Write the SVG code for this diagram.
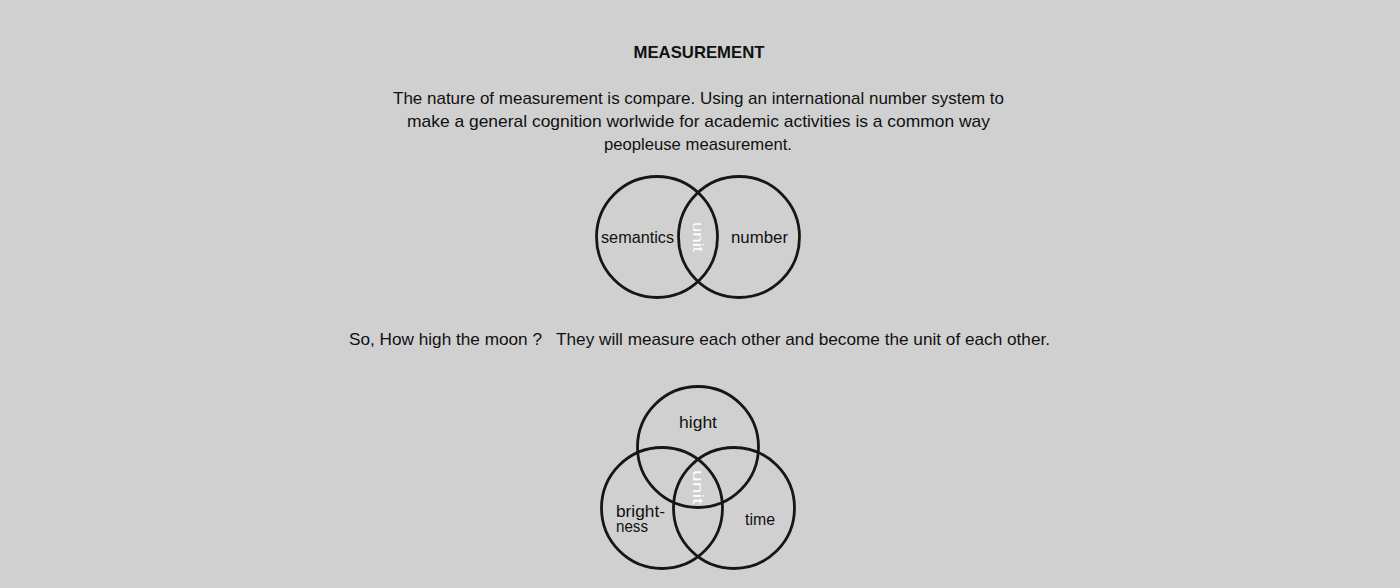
<svg xmlns="http://www.w3.org/2000/svg" width="1400" height="588" viewBox="0 0 1400 588">
<style>
.t{font-family:"Liberation Sans",Arial,sans-serif;fill:#111;}
.c{fill:none;stroke:#161616;stroke-width:2.8;}
.u{font-family:"Liberation Sans",Arial,sans-serif;fill:#fff;font-size:15px;}
</style>
<rect width="1400" height="588" fill="#d0d0d0"/>
<g id="texts">
<text class="t" x="699" y="58" text-anchor="middle" font-size="17" font-weight="bold" textLength="131" lengthAdjust="spacingAndGlyphs">MEASUREMENT</text>
<text class="t" x="698.5" y="104" text-anchor="middle" font-size="17" textLength="611" lengthAdjust="spacingAndGlyphs">The nature of measurement is compare. Using an international number system to</text>
<text class="t" x="698.5" y="127" text-anchor="middle" font-size="17" textLength="583" lengthAdjust="spacingAndGlyphs">make a general cognition worlwide for academic activities is a common way</text>
<text class="t" x="698" y="150" text-anchor="middle" font-size="17" textLength="188" lengthAdjust="spacingAndGlyphs">peopleuse measurement.</text>
<text class="t" x="699.5" y="345" text-anchor="middle" font-size="17" textLength="701" lengthAdjust="spacingAndGlyphs" xml:space="preserve">So, How high the moon ?   They will measure each other and become the unit of each other.</text>
</g>
<g id="venn1">
<g id="semantics"><circle class="c" cx="657" cy="237" r="60.5"/><text class="t" x="637.5" y="243" text-anchor="middle" font-size="16" textLength="73" lengthAdjust="spacingAndGlyphs">semantics</text></g>
<g id="number"><circle class="c" cx="739" cy="237" r="60.5"/><text class="t" x="759.5" y="243" text-anchor="middle" font-size="16" textLength="57" lengthAdjust="spacingAndGlyphs">number</text></g>
<g id="unit1"><text class="u" transform="translate(693,237) rotate(90)" text-anchor="middle" textLength="30" lengthAdjust="spacingAndGlyphs">unit</text></g>
</g>
<g id="venn2">
<g id="hight"><circle class="c" cx="698" cy="447" r="60.5"/><text class="t" x="698" y="428" text-anchor="middle" font-size="16" textLength="38" lengthAdjust="spacingAndGlyphs">hight</text></g>
<g id="brightness"><circle class="c" cx="662" cy="508" r="60.5"/><text class="t" x="616" y="517" font-size="16" textLength="49" lengthAdjust="spacingAndGlyphs">bright-</text><text class="t" x="616" y="532" font-size="16" textLength="32" lengthAdjust="spacingAndGlyphs">ness</text></g>
<g id="time"><circle class="c" cx="734" cy="508" r="60.5"/><text class="t" x="760" y="525" text-anchor="middle" font-size="16" textLength="30" lengthAdjust="spacingAndGlyphs">time</text></g>
<g id="unit2"><text class="u" transform="translate(693,487) rotate(90)" text-anchor="middle" textLength="34" lengthAdjust="spacingAndGlyphs">unit</text></g>
</g>
<g id="connectors"/>
</svg>
